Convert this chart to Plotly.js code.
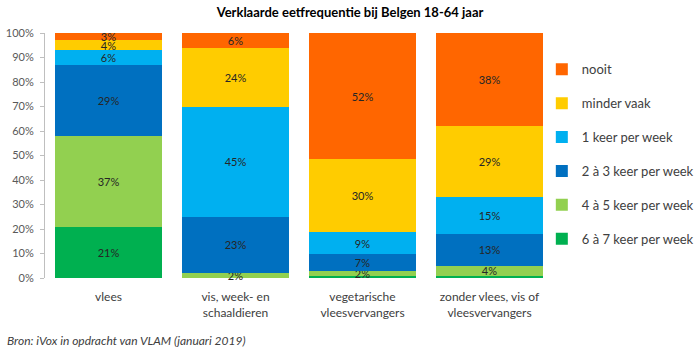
<!DOCTYPE html>
<html>
<head>
<meta charset="utf-8">
<script src="https://cdn.plot.ly/plotly-3.0.1.min.js"></script>
<style>html,body{margin:0;padding:0;background:#fff;}#chart{width:700px;height:352px;}</style>
</head>
<body>
<div id="chart"></div>
<script>
const categories = ["vlees", "vis, week- en<br>schaaldieren", "vegetarische<br>vleesvervangers", "zonder vlees, vis of<br>vleesvervangers"];
const seriesNames = ["6 à 7 keer per week", "4 à 5 keer per week", "2 à 3 keer per week", "1 keer per week", "minder vaak", "nooit"];
const v6a7 = [21, 0, 1, 1];
const v4a5 = [37, 2, 1.9, 4];
const v2a3 = [29, 23, 6.8, 13];
const v1 = [6, 45, 9.1, 15];
const vMinder = [4, 24, 29.7, 29];
const vNooit = [3, 6, 51.5, 38];
const seriesValues = [v6a7, v4a5, v2a3, v1, vMinder, vNooit];
const colors = ["#00B050", "#92D050", "#0070C0", "#00B0F0", "#FFCC00", "#FF6600"];

const FONT = "Lato, 'Open Sans', sans-serif";

const traces = seriesNames.map((name, i) => ({
  type: "bar",
  name: name,
  x: categories,
  y: seriesValues[i],
  marker: {color: colors[i], line: {width: 0}},
  text: seriesValues[i].map(v => v >= 1.5 ? Math.round(v) + "%" : ""),
  textposition: "inside",
  insidetextanchor: "middle",
  textangle: 0,
  constraintext: "none",
  cliponaxis: false,
  textfont: {family: FONT, size: 11, color: "#262626"},
  hoverinfo: "none",
  legendgroup: "g" + i,
  legendrank: 100 - i * 10
}));

const layout = {
  width: 700,
  height: 352,
  margin: {l: 45, r: 147, t: 33, b: 74, autoexpand: false},
  paper_bgcolor: "#fff",
  plot_bgcolor: "#fff",
  barmode: "stack",
  bargap: 0.165,
  font: {family: FONT, color: "#404040"},
  title: {
    text: "<b>Verklaarde eetfrequentie bij Belgen 18-64 jaar</b>",
    font: {family: FONT, size: 13, color: "#000"},
    x: 0.5, xanchor: "center",
    y: 0.966, yanchor: "middle", yref: "container"
  },
  xaxis: {
    type: "category",
    showline: false,
    ticks: "",
    ticklabelstandoff: 10,
    tickfont: {family: FONT, size: 12, color: "#404040"},
    fixedrange: true
  },
  yaxis: {
    range: [0, 100],
    tickvals: [0, 10, 20, 30, 40, 50, 60, 70, 80, 90, 100],
    ticktext: ["0%", "10%", "20%", "30%", "40%", "50%", "60%", "70%", "80%", "90%", "100%"],
    showgrid: false,
    zeroline: false,
    showline: true,
    linecolor: "#BFBFBF",
    linewidth: 1,
    ticks: "outside",
    ticklen: 4,
    tickcolor: "#BFBFBF",
    ticklabelstandoff: 4,
    tickfont: {family: FONT, size: 11, color: "#595959"},
    fixedrange: true
  },
  showlegend: true,
  legend: {
    x: 0.978, xanchor: "left",
    y: 0.913, yanchor: "top",
    bgcolor: "rgba(0,0,0,0)",
    traceorder: "grouped",
    tracegroupgap: 14,
    font: {family: FONT, size: 13, color: "#404040"},
    itemwidth: 30
  },
  annotations: [{
    text: "<i>Bron: iVox in opdracht van VLAM (januari 2019)</i>",
    xref: "paper", yref: "paper",
    x: -0.079, y: -0.257,
    xanchor: "left", yanchor: "middle",
    showarrow: false,
    font: {family: FONT, size: 12, color: "#404040"}
  }]
};

Plotly.newPlot("chart", traces, layout, {displayModeBar: false, staticPlot: true});
</script>
</body>
</html>
